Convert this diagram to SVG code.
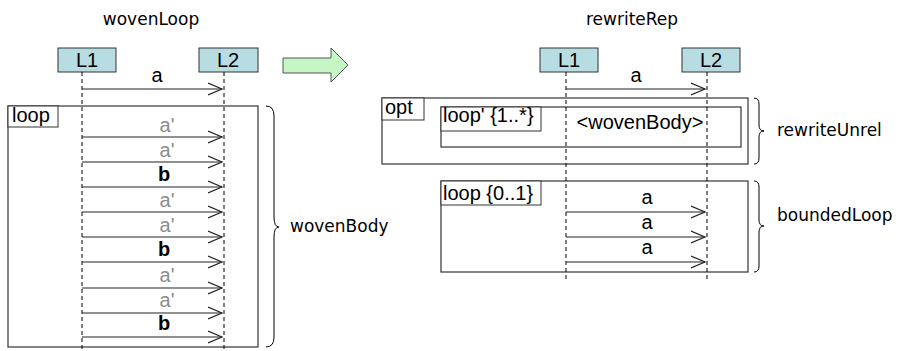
<svg xmlns="http://www.w3.org/2000/svg" width="901" height="351" viewBox="0 0 901 351">
  <style>
    .title { font-family: "DejaVu Sans", sans-serif; font-size: 17px; fill: #000; }
    .note { font-family: "DejaVu Sans", sans-serif; font-size: 17px; fill: #000; }
    .lbl { font-family: "Liberation Sans", Arial, sans-serif; font-size: 20px; fill: #000; }
    .grey { fill: #8c8c8c; }
    .bold { font-weight: bold; }
    .life { fill: #b7dde3; stroke: #333; stroke-width: 1; }
    .frame { fill: #fff; stroke: #333; stroke-width: 1.2; }
    .tag { fill: #fff; stroke: #333; stroke-width: 1; }
    .dash { stroke: #000; stroke-width: 1; stroke-dasharray: 4 3; fill: none; }
    .msg { stroke: #222; stroke-width: 1.2; fill: none; marker-end: url(#open); }
    .brace { stroke: #000; stroke-width: 1; fill: none; }
  </style>
  <defs>
    <marker id="open" markerWidth="16" markerHeight="14" refX="14" refY="7" orient="auto" markerUnits="userSpaceOnUse">
      <path d="M0,1 L14,7 L0,13" fill="none" stroke="#222" stroke-width="1.2"/>
    </marker>
  </defs>

  <!-- left: wovenLoop -->
  <text class="title" x="151" y="25" text-anchor="middle">wovenLoop</text>

  <g id="loopFrame">
    <rect class="frame" x="8" y="106" width="250" height="241"/>
    <rect class="tag" x="8" y="106" width="50" height="21"/>
    <text class="lbl" x="12" y="122">loop</text>
  </g>

  <g id="L1">
    <rect class="life" x="58" y="48" width="58" height="24"/>
    <text class="lbl" x="87" y="67" text-anchor="middle">L1</text>
  </g>
  <g id="L2">
    <rect class="life" x="199" y="48" width="59" height="24"/>
    <text class="lbl" x="228" y="67" text-anchor="middle">L2</text>
  </g>

  <g id="connectors-left">
    <line class="dash" x1="82" y1="72" x2="82" y2="351"/>
    <line class="dash" x1="224" y1="72" x2="224" y2="351"/>
    <line class="msg" x1="82" y1="89" x2="222" y2="89"/>
    <line class="msg" x1="82" y1="137" x2="222" y2="137"/>
    <line class="msg" x1="82" y1="162" x2="222" y2="162"/>
    <line class="msg" x1="82" y1="187" x2="222" y2="187"/>
    <line class="msg" x1="82" y1="212" x2="222" y2="212"/>
    <line class="msg" x1="82" y1="237" x2="222" y2="237"/>
    <line class="msg" x1="82" y1="262" x2="222" y2="262"/>
    <line class="msg" x1="82" y1="288" x2="222" y2="288"/>
    <line class="msg" x1="82" y1="313" x2="222" y2="313"/>
    <line class="msg" x1="82" y1="337" x2="222" y2="337"/>
  </g>

  <g id="messages-left">
    <text class="lbl" x="157" y="82" text-anchor="middle">a</text>
    <text class="lbl grey" x="167" y="132" text-anchor="middle">a'</text>
    <text class="lbl grey" x="167" y="157" text-anchor="middle">a'</text>
    <text class="lbl bold" x="164" y="181" text-anchor="middle">b</text>
    <text class="lbl grey" x="167" y="207" text-anchor="middle">a'</text>
    <text class="lbl grey" x="167" y="232" text-anchor="middle">a'</text>
    <text class="lbl bold" x="164" y="256" text-anchor="middle">b</text>
    <text class="lbl grey" x="167" y="282" text-anchor="middle">a'</text>
    <text class="lbl grey" x="167" y="307" text-anchor="middle">a'</text>
    <text class="lbl bold" x="164" y="330" text-anchor="middle">b</text>
  </g>

  <g id="wovenBody">
    <path class="brace" d="M266,106 Q274,106 274,116 L274,217 Q274,227 279,227 Q274,227 274,237 L274,337 Q274,347 266,347"/>
    <text class="note" x="290" y="232">wovenBody</text>
  </g>

  <!-- transformation arrow -->
  <g id="transform">
    <path d="M283,58 L331,58 L331,48 L348,65 L331,82 L331,73 L283,73 Z" fill="#c6f5c6" stroke="#555" stroke-width="1"/>
  </g>

  <!-- right: rewriteRep -->
  <text class="title" x="632" y="25" text-anchor="middle">rewriteRep</text>

  <g id="optFrame">
    <rect class="frame" x="382" y="98" width="366" height="66"/>
    <rect class="tag" x="382" y="98" width="42" height="22"/>
    <text class="lbl" x="385" y="114">opt</text>
  </g>
  <g id="loopPrimeFrame">
    <rect class="frame" x="441" y="107" width="300" height="40"/>
    <rect class="tag" x="441" y="107" width="100" height="24"/>
    <text class="lbl" x="443" y="122">loop' {1..*}</text>
    <text class="lbl" x="640" y="129" text-anchor="middle">&lt;wovenBody&gt;</text>
  </g>
  <g id="boundedFrame">
    <rect class="frame" x="441" y="181" width="307" height="91"/>
    <rect class="tag" x="441" y="181" width="100" height="24"/>
    <text class="lbl" x="443" y="200">loop {0..1}</text>
  </g>

  <g id="R1">
    <rect class="life" x="540" y="48" width="58" height="24"/>
    <text class="lbl" x="569" y="67" text-anchor="middle">L1</text>
  </g>
  <g id="R2">
    <rect class="life" x="682" y="48" width="58" height="24"/>
    <text class="lbl" x="711" y="67" text-anchor="middle">L2</text>
  </g>

  <g id="connectors-right">
    <line class="dash" x1="566" y1="72" x2="566" y2="282"/>
    <line class="dash" x1="707" y1="72" x2="707" y2="282"/>
    <line class="msg" x1="566" y1="89" x2="705" y2="89"/>
    <line class="msg" x1="566" y1="212" x2="705" y2="212"/>
    <line class="msg" x1="566" y1="237" x2="705" y2="237"/>
    <line class="msg" x1="566" y1="262" x2="705" y2="262"/>
  </g>

  <g id="messages-right">
    <text class="lbl" x="636" y="82" text-anchor="middle">a</text>
    <text class="lbl" x="647" y="204" text-anchor="middle">a</text>
    <text class="lbl" x="647" y="229" text-anchor="middle">a</text>
    <text class="lbl" x="647" y="254" text-anchor="middle">a</text>
  </g>

  <g id="rewriteUnrel">
    <path class="brace" d="M754,98 Q759,98 759,104 L759,125 Q759,131 764,131 Q759,131 759,137 L759,158 Q759,164 754,164"/>
    <text class="note" x="777" y="136">rewriteUnrel</text>
  </g>
  <g id="boundedLoop">
    <path class="brace" d="M754,181 Q759,181 759,187 L759,220 Q759,226 764,226 Q759,226 759,232 L759,266 Q759,272 754,272"/>
    <text class="note" x="777" y="221">boundedLoop</text>
  </g>
</svg>
